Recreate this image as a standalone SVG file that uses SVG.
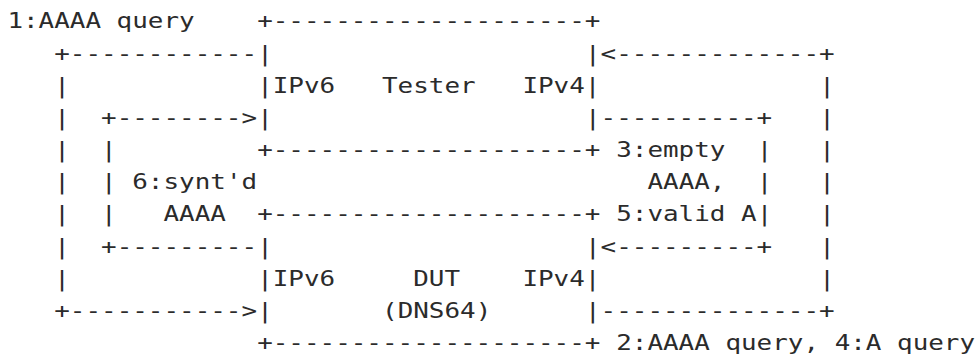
<svg xmlns="http://www.w3.org/2000/svg" width="978" height="361" viewBox="0 0 978 361">
<style>
text{font-family:"DejaVu Sans Mono","Liberation Mono",monospace;font-size:22px;fill:#2b2b2b;white-space:pre}
</style>
<rect width="978" height="361" fill="#ffffff"/>
<g transform="matrix(1.1786 0 0 1 7.4 0)">
<g id="tester">
<text x="211.92" y="28.5">+--------------------+</text>
<text x="211.92" y="60.65">|</text>
<text x="490.07" y="60.65">|</text>
<text x="211.92" y="92.8">|IPv6   Tester   IPv4|</text>
<text x="211.92" y="124.95">|</text>
<text x="490.07" y="124.95">|</text>
<text x="211.92" y="157.1">+--------------------+</text>
</g>
<g id="dut">
<text x="211.92" y="221.4">+--------------------+</text>
<text x="211.92" y="253.55">|</text>
<text x="490.07" y="253.55">|</text>
<text x="211.92" y="285.7">|IPv6     DUT    IPv4|</text>
<text x="211.92" y="317.85">|</text>
<text x="317.88" y="317.85">(DNS64)</text>
<text x="490.07" y="317.85">|</text>
<text x="211.92" y="350">+--------------------+</text>
</g>
<g id="connectors">
<text x="39.74" y="60.65">+------------</text>
<text x="503.31" y="60.65">&lt;-------------+</text>
<text x="39.74" y="92.8">|</text>
<text x="688.74" y="92.8">|</text>
<text x="39.74" y="124.95">|</text>
<text x="79.47" y="124.95">+--------&gt;</text>
<text x="503.31" y="124.95">----------+</text>
<text x="688.74" y="124.95">|</text>
<text x="39.74" y="157.1">|</text>
<text x="79.47" y="157.1">|</text>
<text x="635.76" y="157.1">|</text>
<text x="688.74" y="157.1">|</text>
<text x="39.74" y="189.25">|</text>
<text x="79.47" y="189.25">|</text>
<text x="635.76" y="189.25">|</text>
<text x="688.74" y="189.25">|</text>
<text x="39.74" y="221.4">|</text>
<text x="79.47" y="221.4">|</text>
<text x="635.76" y="221.4">|</text>
<text x="688.74" y="221.4">|</text>
<text x="39.74" y="253.55">|</text>
<text x="79.47" y="253.55">+---------</text>
<text x="503.31" y="253.55">&lt;---------+</text>
<text x="688.74" y="253.55">|</text>
<text x="39.74" y="285.7">|</text>
<text x="688.74" y="285.7">|</text>
<text x="39.74" y="317.85">+-----------&gt;</text>
<text x="503.31" y="317.85">--------------+</text>
</g>
<g id="labels">
<text x="0" y="28.5">1:AAAA query</text>
<text x="516.56" y="157.1">3:empty</text>
<text x="105.96" y="189.25">6:synt'd</text>
<text x="543.05" y="189.25">AAAA,</text>
<text x="132.45" y="221.4">AAAA</text>
<text x="516.56" y="221.4">5:valid A</text>
<text x="516.56" y="350">2:AAAA query, 4:A query</text>
</g>
</g>
</svg>
